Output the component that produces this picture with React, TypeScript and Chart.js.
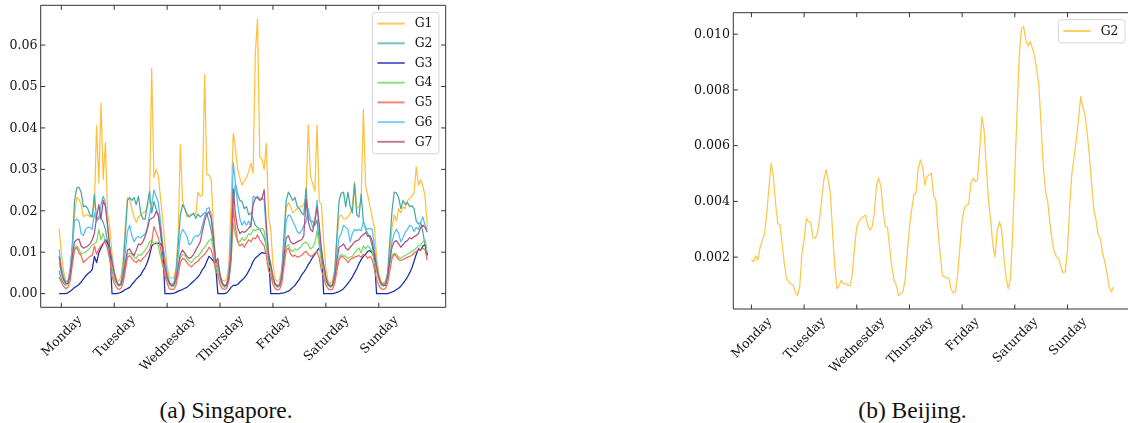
import React, { useEffect, useRef } from "react";
import { Chart, registerables } from "chart.js";
Chart.register(...registerables);

// ---------------- data ----------------
const DAYS = ["Monday", "Tuesday", "Wednesday", "Thursday", "Friday", "Saturday", "Sunday"];
const SG_TICK_POS = [1, 25, 49, 73, 97, 121, 145];
const BJ_TICK_POS = [0, 24, 48, 72, 96, 120, 144];
const SG_Y_TICKS = [0, 0.01, 0.02, 0.03, 0.04, 0.05, 0.06];
const SG_Y_LABELS = ["0.00", "0.01", "0.02", "0.03", "0.04", "0.05", "0.06"];
const BJ_Y_TICKS = [0.002, 0.004, 0.006, 0.008, 0.01];
const BJ_Y_LABELS = ["0.002", "0.004", "0.006", "0.008", "0.010"];
const SG_LABELS = ["G1", "G2", "G3", "G4", "G5", "G6", "G7"];
const BJ_LABELS = ["G2"];

// Singapore, hourly over one week (Mon..Sun, 24 values per line)
const SG_G1 = [
  0.0157,0.010,0.0055,0.003,0.0025,0.0045,0.010,0.019,0.0232,0.0228,0.0215,0.0185,0.019,0.019,0.0185,0.019,0.021,0.0405,0.0267,0.046,0.0275,0.0365,0.019,0.016,
  0.0095,0.0055,0.0035,0.003,0.004,0.008,0.016,0.0232,0.0225,0.0205,0.0185,0.0172,0.0185,0.019,0.0195,0.0198,0.021,0.022,0.0544,0.028,0.030,0.0285,0.023,0.018,
  0.012,0.0065,0.004,0.0037,0.0038,0.006,0.014,0.0359,0.0225,0.0205,0.0185,0.019,0.019,0.0195,0.019,0.0245,0.0235,0.0238,0.0528,0.0287,0.0287,0.0275,0.016,0.0075,
  0.005,0.0038,0.0033,0.003,0.0035,0.007,0.022,0.0387,0.035,0.030,0.0278,0.0262,0.0272,0.028,0.0295,0.0315,0.029,0.058,0.0663,0.033,0.0325,0.030,0.0363,0.0187,
  0.0155,0.007,0.0035,0.003,0.0035,0.006,0.013,0.0205,0.022,0.021,0.0195,0.02,0.0205,0.021,0.021,0.0215,0.023,0.0407,0.0285,0.0265,0.0248,0.0407,0.0222,0.0215,
  0.0125,0.006,0.003,0.0025,0.003,0.006,0.013,0.0185,0.019,0.018,0.018,0.0185,0.0192,0.021,0.027,0.0205,0.021,0.0225,0.0445,0.026,0.0238,0.021,0.0185,0.016,
  0.009,0.005,0.003,0.0025,0.003,0.0045,0.009,0.016,0.019,0.0175,0.0205,0.0195,0.021,0.0205,0.0225,0.023,0.0235,0.0245,0.0306,0.0262,0.0275,0.026,0.0235,0.0162,
];
const SG_G2 = [
  0.0055,0.0035,0.0025,0.002,0.0025,0.005,0.012,0.0225,0.0255,0.0257,0.0245,0.021,0.0212,0.0205,0.019,0.0185,0.024,0.018,0.0185,0.0182,0.0172,0.0155,0.0125,0.0095,
  0.0055,0.0035,0.0025,0.002,0.0025,0.006,0.014,0.0225,0.0232,0.0225,0.0232,0.0215,0.0235,0.0195,0.018,0.018,0.0215,0.0247,0.0195,0.0222,0.0205,0.019,0.0145,0.0095,
  0.0065,0.0035,0.0025,0.0022,0.0025,0.005,0.0115,0.019,0.0215,0.0205,0.0192,0.0185,0.019,0.0193,0.0182,0.0192,0.0185,0.019,0.0195,0.0193,0.0175,0.0152,0.012,0.0085,
  0.0065,0.004,0.0025,0.002,0.0022,0.005,0.013,0.022,0.0265,0.024,0.0225,0.0222,0.0205,0.021,0.019,0.0195,0.018,0.0165,0.016,0.0155,0.0145,0.0135,0.0115,0.0085,
  0.006,0.0035,0.0022,0.0018,0.002,0.005,0.014,0.0225,0.0245,0.0235,0.0225,0.0232,0.021,0.0205,0.0195,0.019,0.0255,0.0185,0.0175,0.0175,0.0165,0.0178,0.0125,0.0085,
  0.0055,0.0032,0.002,0.0018,0.002,0.005,0.014,0.0225,0.0243,0.0245,0.021,0.0245,0.0212,0.0195,0.0265,0.019,0.0185,0.024,0.0175,0.0155,0.0145,0.0135,0.0115,0.0085,
  0.0055,0.0035,0.0025,0.0022,0.0025,0.005,0.0125,0.02,0.0245,0.0243,0.0232,0.0205,0.0225,0.0215,0.022,0.021,0.0212,0.0205,0.0175,0.0168,0.0172,0.0148,0.0118,0.0095,
];
const SG_G3 = [
  0,0,0,0,0.0002,0.0006,0.001,0.0015,0.0018,0.0022,0.0028,0.0035,0.0042,0.0048,0.0052,0.0058,0.009,0.0075,0.0098,0.011,0.012,0.013,0.0122,0.011,
  0,0,0,0.0001,0.0003,0.0006,0.001,0.0012,0.0015,0.0022,0.0028,0.0035,0.004,0.0045,0.0055,0.0063,0.0075,0.0092,0.0115,0.012,0.0121,0.0122,0.012,0.0115,
  0,0,0,0,0.0001,0.0003,0.0006,0.0008,0.001,0.0013,0.0015,0.002,0.0025,0.003,0.0035,0.004,0.0048,0.0058,0.0065,0.0078,0.009,0.0085,0.0078,0.0068,
  0,0,0,0,0.0002,0.0008,0.0015,0.002,0.002,0.0022,0.0028,0.0033,0.0038,0.0045,0.0055,0.0065,0.0078,0.0086,0.009,0.0095,0.0099,0.0098,0.0097,0.0095,
  0,0,0,0,0,0.0001,0.0002,0.0004,0.0006,0.001,0.0015,0.002,0.0028,0.0035,0.0045,0.0052,0.006,0.007,0.0078,0.0088,0.0095,0.0103,0.011,0.0108,
  0,0,0,0,0,0.0001,0.0003,0.0005,0.0008,0.0012,0.0018,0.0025,0.0032,0.004,0.005,0.006,0.0072,0.0082,0.009,0.0095,0.0102,0.0104,0.0098,0.0085,
  0,0,0,0,0,0,0.0002,0.0004,0.0006,0.001,0.0013,0.0018,0.0025,0.0032,0.004,0.005,0.0062,0.0078,0.0095,0.0108,0.0105,0.0115,0.0118,0.0092,
];
const SG_G4 = [
  0.0075,0.005,0.003,0.0022,0.0025,0.0045,0.008,0.011,0.0115,0.0108,0.0095,0.0098,0.01,0.0105,0.011,0.0118,0.012,0.0125,0.0155,0.013,0.0145,0.0125,0.0105,0.008,
  0.006,0.004,0.0025,0.0018,0.002,0.0035,0.0065,0.0095,0.0098,0.0095,0.0088,0.0085,0.0095,0.0092,0.0098,0.0105,0.0112,0.0125,0.0128,0.012,0.0125,0.0115,0.009,0.0065,
  0.0055,0.0035,0.0022,0.0017,0.0018,0.003,0.006,0.0088,0.0095,0.0092,0.0085,0.0078,0.0075,0.0082,0.0088,0.009,0.0098,0.0105,0.0112,0.012,0.0128,0.0132,0.0105,0.0065,
  0.0055,0.0035,0.002,0.0015,0.0018,0.0035,0.008,0.017,0.014,0.0128,0.0125,0.0135,0.0128,0.0135,0.0145,0.0142,0.0155,0.0152,0.0155,0.0155,0.0158,0.0152,0.0115,0.007,
  0.006,0.0035,0.002,0.0015,0.0018,0.004,0.008,0.0112,0.0118,0.0105,0.0102,0.0108,0.0105,0.011,0.0115,0.0122,0.0125,0.0118,0.0108,0.0112,0.0122,0.0152,0.0115,0.0075,
  0.0055,0.0032,0.002,0.0015,0.0018,0.0035,0.0065,0.0088,0.0095,0.0092,0.009,0.0085,0.0088,0.009,0.0098,0.0105,0.011,0.0098,0.0115,0.0108,0.0115,0.011,0.0102,0.0075,
  0.0055,0.0035,0.002,0.0018,0.002,0.004,0.007,0.0092,0.0098,0.0095,0.0088,0.0085,0.009,0.0092,0.0095,0.0098,0.0102,0.0105,0.011,0.0115,0.0118,0.0125,0.013,0.0098,
];
const SG_G5 = [
  0.004,0.0028,0.0018,0.0012,0.0015,0.003,0.007,0.0105,0.0112,0.0098,0.0092,0.0075,0.008,0.0085,0.009,0.0092,0.0115,0.0095,0.0108,0.0115,0.0122,0.0125,0.011,0.0085,
  0.004,0.0025,0.0015,0.001,0.0012,0.0025,0.0055,0.0088,0.0092,0.0085,0.0078,0.0075,0.0082,0.0078,0.0085,0.009,0.0098,0.0105,0.0125,0.0162,0.0148,0.0135,0.011,0.0075,
  0.0045,0.0025,0.0012,0.001,0.001,0.002,0.0045,0.0075,0.0085,0.0082,0.0075,0.0068,0.0065,0.007,0.0075,0.0078,0.0085,0.009,0.0095,0.0102,0.0112,0.0105,0.0085,0.0055,
  0.0045,0.0022,0.0012,0.001,0.0012,0.003,0.008,0.0205,0.016,0.0125,0.0115,0.012,0.0112,0.0122,0.013,0.0125,0.0135,0.0132,0.0142,0.013,0.0122,0.0115,0.009,0.0055,
  0.0045,0.0022,0.0012,0.0009,0.001,0.0025,0.0065,0.0105,0.011,0.0095,0.009,0.0093,0.0088,0.009,0.0092,0.0098,0.0102,0.0095,0.009,0.0092,0.0098,0.0102,0.0085,0.0055,
  0.004,0.002,0.0012,0.0009,0.001,0.0025,0.0055,0.0082,0.009,0.0088,0.0082,0.0075,0.0082,0.0085,0.0088,0.009,0.0092,0.0088,0.0095,0.0092,0.0085,0.009,0.0082,0.006,
  0.0035,0.002,0.0012,0.001,0.0012,0.0025,0.0055,0.0085,0.0095,0.009,0.0082,0.008,0.0082,0.0085,0.0088,0.009,0.0092,0.0098,0.0102,0.0105,0.0105,0.011,0.0105,0.008,
];
const SG_G6 = [
  0.0107,0.0065,0.004,0.003,0.003,0.006,0.0115,0.0175,0.018,0.0175,0.0145,0.014,0.0155,0.016,0.016,0.0155,0.0195,0.0175,0.018,0.0215,0.0235,0.022,0.016,0.0105,
  0.0085,0.005,0.003,0.002,0.0025,0.005,0.010,0.015,0.0165,0.014,0.0125,0.0135,0.0138,0.0135,0.014,0.0143,0.016,0.019,0.0215,0.025,0.0235,0.022,0.0175,0.012,
  0.0085,0.005,0.003,0.002,0.0022,0.004,0.009,0.014,0.0155,0.0148,0.0138,0.0118,0.0122,0.0135,0.014,0.0138,0.0145,0.0165,0.0185,0.0205,0.0208,0.019,0.014,0.008,
  0.0075,0.0045,0.0025,0.002,0.0022,0.005,0.014,0.0317,0.0265,0.0215,0.018,0.0165,0.0175,0.0165,0.0175,0.016,0.0235,0.0232,0.0235,0.0228,0.0232,0.0225,0.015,0.0095,
  0.007,0.004,0.0025,0.002,0.0022,0.005,0.011,0.0175,0.019,0.0187,0.0175,0.0163,0.015,0.0145,0.0152,0.0165,0.0172,0.0205,0.0178,0.016,0.0175,0.0225,0.015,0.0095,
  0.007,0.004,0.0025,0.002,0.0022,0.0045,0.0095,0.0135,0.0145,0.0165,0.016,0.0155,0.0125,0.0145,0.0155,0.0152,0.0155,0.0152,0.0175,0.016,0.0155,0.0158,0.0155,0.0115,
  0.007,0.004,0.0025,0.002,0.0022,0.0045,0.0085,0.0125,0.0145,0.0155,0.0145,0.0125,0.0135,0.0148,0.0155,0.0165,0.0162,0.015,0.016,0.0155,0.0172,0.0185,0.0165,0.0155,
];
const SG_G7 = [
  0.009,0.0055,0.0035,0.0025,0.0025,0.0045,0.009,0.0125,0.013,0.0132,0.0115,0.011,0.0112,0.0115,0.012,0.013,0.0145,0.0185,0.0215,0.018,0.0225,0.021,0.0165,0.011,
  0.0075,0.005,0.003,0.002,0.0022,0.004,0.0075,0.0105,0.0108,0.0098,0.0092,0.0105,0.012,0.0118,0.0125,0.0138,0.0155,0.0178,0.0182,0.0185,0.0198,0.019,0.0155,0.0105,
  0.0065,0.004,0.0025,0.002,0.002,0.0035,0.0065,0.0095,0.0105,0.0098,0.009,0.0085,0.0088,0.0095,0.0105,0.0115,0.0125,0.015,0.0175,0.0192,0.0198,0.018,0.0135,0.0075,
  0.0085,0.0045,0.0025,0.0018,0.002,0.004,0.0095,0.0253,0.019,0.0158,0.0145,0.015,0.0148,0.0152,0.0158,0.0165,0.0215,0.023,0.0232,0.0225,0.0228,0.0251,0.0165,0.0095,
  0.007,0.004,0.0022,0.0018,0.002,0.004,0.009,0.0135,0.014,0.0125,0.012,0.0122,0.0125,0.0128,0.013,0.014,0.0228,0.0175,0.0155,0.015,0.0175,0.021,0.0165,0.0105,
  0.007,0.004,0.0022,0.0018,0.002,0.004,0.008,0.0112,0.0115,0.012,0.011,0.0105,0.0112,0.0118,0.0125,0.0128,0.013,0.0138,0.0142,0.0148,0.0138,0.014,0.0128,0.0095,
  0.0065,0.004,0.0025,0.002,0.002,0.004,0.008,0.0112,0.0125,0.0128,0.012,0.0112,0.0118,0.0125,0.0128,0.0135,0.0132,0.0138,0.014,0.0145,0.016,0.0165,0.016,0.0148,
];

// Beijing, G2 over one week
const BJ_G2 = [
  0.00192,0.00183,0.00204,0.00189,0.00237,0.00261,0.00285,0.00357,0.00453,0.00537,
  0.00489,0.00393,0.00321,0.00315,0.00249,0.00177,0.00123,0.00111,0.00105,0.00099,
  0.00075,0.00062,0.00093,0.00213,0.00261,0.00339,0.00327,0.00327,0.00271,0.00267,
  0.00285,0.00333,0.00405,0.00477,0.00513,0.00477,0.00429,0.00285,0.00165,0.00087,
  0.00099,0.00117,0.00105,0.00105,0.00099,0.00099,0.00141,0.00237,0.00309,0.00327,
  0.00339,0.00345,0.00351,0.00315,0.00297,0.00309,0.00357,0.00459,0.00483,0.00453,
  0.00363,0.00311,0.00307,0.00231,0.00165,0.00117,0.00099,0.00063,0.00069,0.00075,
  0.00117,0.00213,0.00309,0.00369,0.00423,0.00431,0.00519,0.00549,0.00525,0.00459,
  0.00489,0.00495,0.00501,0.00423,0.00405,0.00297,0.00213,0.00135,0.00129,0.00126,
  0.00123,0.00084,0.00072,0.00075,0.00141,0.00237,0.00333,0.00375,0.00387,0.0039,
  0.00465,0.00483,0.00471,0.00477,0.00585,0.00704,0.00656,0.00525,0.00405,0.00333,
  0.00243,0.00201,0.00297,0.00327,0.00297,0.00201,0.00129,0.00087,0.00123,0.00285,
  0.00501,0.00716,0.0092,0.01018,0.01028,0.0098,0.00958,0.00974,0.0095,0.0092,
  0.00872,0.00812,0.00668,0.00525,0.00435,0.00399,0.00321,0.00261,0.00219,0.00201,
  0.00195,0.00165,0.00144,0.00147,0.00231,0.00381,0.00501,0.00561,0.00621,0.00692,
  0.00776,0.0074,0.0071,0.00644,0.00561,0.00465,0.00369,0.00333,0.00279,0.00267,
  0.00213,0.00183,0.00141,0.00093,0.00075,0.00093,
];

// ---------------- styles ----------------
const SG_COLORS = ["#FFC040", "#45A9A5", "#1630A4", "#7ADB66", "#F26C5C", "#52BEF4", "#B0527C"];
const SG_LEGEND_COLORS = ["#FFC658", "#74C2BE", "#5C6CC8", "#8CE07A", "#F2877A", "#7ED0F8", "#C27A9A"];
const BJ_COLORS = ["#FFC64A"];
const BJ_LEGEND_COLORS = ["#FFCC66"];

const TICK_FONT = '"DejaVu Serif", serif';
const TICK_SIZE = 12.6;

type AxOpts = {
  yTicks: number[];
  yLabels: string[];
  xTicks: number[];
  xLabels: string[];
  legendLabels: string[];
  legendColors: string[];
  drawRight: boolean;
};

function makeAxesPlugin(o: AxOpts) {
  return {
    id: "mplAxes",
    afterDatasetsDraw(chart: any) {
      const ctx: CanvasRenderingContext2D = chart.ctx;
      const { left, right, top, bottom } = chart.chartArea;
      const xs = chart.scales.x;
      const ys = chart.scales.y;
      ctx.save();
      ctx.strokeStyle = "#333";
      ctx.lineWidth = 1;
      // spines
      ctx.beginPath();
      ctx.moveTo(left, top);
      ctx.lineTo(right, top);
      ctx.moveTo(left, top);
      ctx.lineTo(left, bottom);
      ctx.lineTo(right, bottom);
      if (o.drawRight) {
        ctx.moveTo(right, top);
        ctx.lineTo(right, bottom);
      }
      ctx.stroke();
      const TL = 4.5;
      // ticks + labels
      ctx.fillStyle = "#111";
      ctx.font = `${TICK_SIZE}px ${TICK_FONT}`;
      ctx.textAlign = "right";
      ctx.textBaseline = "middle";
      o.yTicks.forEach((v, k) => {
        const py = ys.getPixelForValue(v);
        ctx.beginPath();
        ctx.moveTo(left, py);
        ctx.lineTo(left + TL, py);
        if (o.drawRight) {
          ctx.moveTo(right, py);
          ctx.lineTo(right - TL, py);
        }
        ctx.stroke();
        ctx.fillText(o.yLabels[k], left - 3.2, py + 0.5);
      });
      const f = TICK_SIZE;
      const h = f * 1.164;
      o.xTicks.forEach((v, k) => {
        const px = xs.getPixelForValue(v);
        ctx.beginPath();
        ctx.moveTo(px, bottom);
        ctx.lineTo(px, bottom - TL);
        ctx.moveTo(px, top);
        ctx.lineTo(px, top + TL);
        ctx.stroke();
        const label = o.xLabels[k];
        const w = ctx.measureText(label).width;
        const B = (w + h) / Math.SQRT2;
        const cy = bottom + 5 + B / 2;
        ctx.save();
        ctx.translate(px, cy);
        ctx.rotate(-Math.PI / 4);
        ctx.textAlign = "center";
        ctx.textBaseline = "alphabetic";
        ctx.fillText(label, 0, 0.346 * f);
        ctx.restore();
      });
      // legend
      const lf = 12.4;
      ctx.font = `${lf}px ${TICK_FONT}`;
      let tw = 0;
      o.legendLabels.forEach((l) => (tw = Math.max(tw, ctx.measureText(l).width)));
      const rowH = 19.7;
      const n = o.legendLabels.length;
      const boxW = 42.3 + tw + 6.5;
      const boxH = n * rowH + 3.5;
      const bx = right - 6.7 - boxW;
      const by = top + 7;
      const r = 3;
      ctx.beginPath();
      ctx.moveTo(bx + r, by);
      ctx.lineTo(bx + boxW - r, by);
      ctx.arcTo(bx + boxW, by, bx + boxW, by + r, r);
      ctx.lineTo(bx + boxW, by + boxH - r);
      ctx.arcTo(bx + boxW, by + boxH, bx + boxW - r, by + boxH, r);
      ctx.lineTo(bx + r, by + boxH);
      ctx.arcTo(bx, by + boxH, bx, by + boxH - r, r);
      ctx.lineTo(bx, by + r);
      ctx.arcTo(bx, by, bx + r, by, r);
      ctx.closePath();
      ctx.fillStyle = "rgba(255,255,255,0.85)";
      ctx.fill();
      ctx.strokeStyle = "#d6d6d6";
      ctx.lineWidth = 1;
      ctx.stroke();
      ctx.textAlign = "left";
      ctx.textBaseline = "middle";
      o.legendLabels.forEach((l, k) => {
        const yy = by + 11.3 + k * rowH;
        ctx.strokeStyle = o.legendColors[k];
        ctx.lineWidth = 2;
        ctx.beginPath();
        ctx.moveTo(bx + 5, yy);
        ctx.lineTo(bx + 32.3, yy);
        ctx.stroke();
        ctx.fillStyle = "#111";
        ctx.fillText(l, bx + 42.3, yy + 0.5);
      });
      ctx.restore();
    },
  };
}

type PanelProps = {
  left: number;
  width: number;
  height: number;
  series: number[][];
  colors: string[];
  labels: string[];
  legendColors: string[];
  xMin: number;
  xMax: number;
  yMin: number;
  yMax: number;
  padding: { left: number; right: number; top: number; bottom: number };
  xTicks: number[];
  yTicks: number[];
  yLabels: string[];
  drawRight: boolean;
};

function Panel(p: PanelProps) {
  const ref = useRef<HTMLCanvasElement | null>(null);
  useEffect(() => {
    if (!ref.current) return;
    const n = p.series.length;
    const chart = new Chart(ref.current, {
      type: "line",
      data: {
        datasets: p.series.map((vals, k) => ({
          label: p.labels[k],
          data: vals.map((v, i) => ({ x: i, y: v })),
          borderColor: p.colors[k],
          backgroundColor: p.colors[k],
          borderWidth: 1.25,
          pointRadius: 0,
          tension: 0,
          fill: false,
          borderJoinStyle: "round",
          order: n - k,
        })),
      },
      options: {
        responsive: false,
        animation: false,
        events: [],
        layout: { padding: p.padding },
        plugins: { legend: { display: false }, tooltip: { enabled: false } },
        scales: {
          x: { type: "linear", min: p.xMin, max: p.xMax, display: false },
          y: { type: "linear", min: p.yMin, max: p.yMax, display: false },
        },
      } as any,
      plugins: [
        makeAxesPlugin({
          yTicks: p.yTicks,
          yLabels: p.yLabels,
          xTicks: p.xTicks,
          xLabels: DAYS,
          legendLabels: p.labels,
          legendColors: p.legendColors,
          drawRight: p.drawRight,
        }),
      ],
    } as any);
    return () => chart.destroy();
  }, []);
  return (
    <canvas
      ref={ref}
      width={p.width}
      height={p.height}
      style={{ position: "absolute", left: p.left, top: 0, width: p.width, height: p.height }}
    />
  );
}

const captionStyle = (cx: number): React.CSSProperties => ({
  position: "absolute",
  left: cx - 200,
  width: 400,
  top: 397.5,
  textAlign: "center",
  fontFamily: '"Liberation Serif", "Times New Roman", Times, serif',
  fontSize: 23.5,
  lineHeight: "24px",
  color: "#111",
  whiteSpace: "nowrap",
});

export default function App() {
  return (
    <div
      style={{
        position: "absolute",
        left: 0,
        top: 0,
        width: 1128,
        height: 423,
        overflow: "hidden",
        background: "#fff",
      }}
    >
      <Panel
        left={0}
        width={460}
        height={385}
        series={[SG_G1, SG_G2, SG_G3, SG_G4, SG_G5, SG_G6, SG_G7]}
        colors={SG_COLORS}
        labels={SG_LABELS}
        legendColors={SG_LEGEND_COLORS}
        xMin={-8.35}
        xMax={175.35}
        yMin={-0.0033}
        yMax={0.0696}
        padding={{ left: 40.7, right: 460 - 445.7, top: 5.3, bottom: 385 - 307.3 }}
        xTicks={SG_TICK_POS}
        yTicks={SG_Y_TICKS}
        yLabels={SG_Y_LABELS}
        drawRight={true}
      />
      <Panel
        left={680}
        width={460}
        height={385}
        series={[BJ_G2]}
        colors={BJ_COLORS}
        labels={BJ_LABELS}
        legendColors={BJ_LEGEND_COLORS}
        xMin={-8.25}
        xMax={173.25}
        yMin={0.00014}
        yMax={0.01077}
        padding={{ left: 53.3, right: 1140 - 1131.7, top: 12.7, bottom: 385 - 309 }}
        xTicks={BJ_TICK_POS}
        yTicks={BJ_Y_TICKS}
        yLabels={BJ_Y_LABELS}
        drawRight={false}
      />
      <div style={captionStyle(226)}>(a) Singapore.</div>
      <div style={captionStyle(912.5)}>(b) Beijing.</div>
    </div>
  );
}
